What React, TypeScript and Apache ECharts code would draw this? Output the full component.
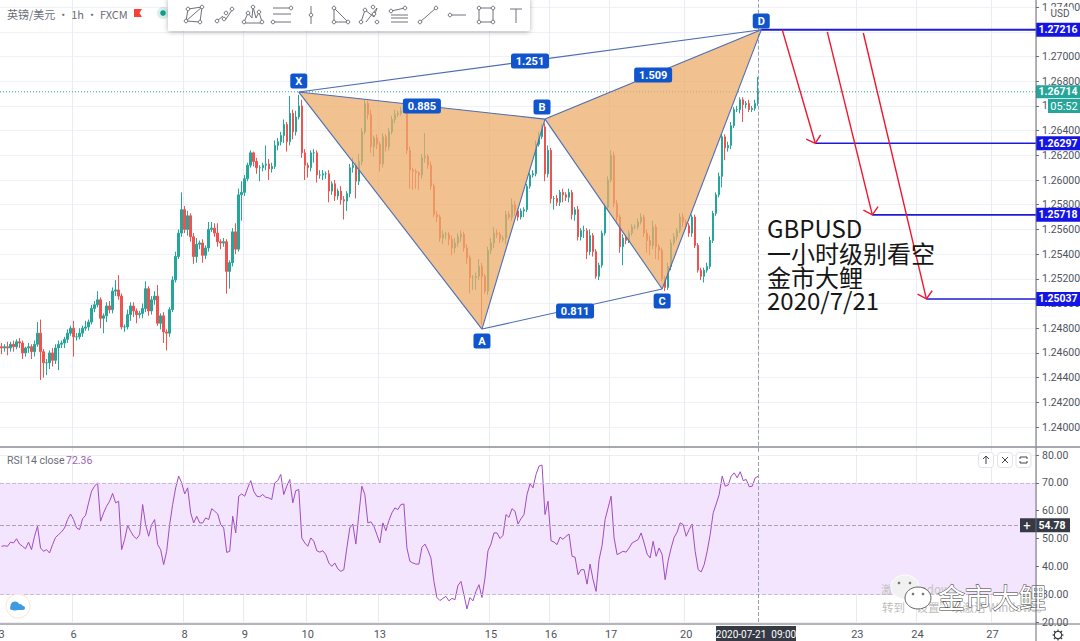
import React, { useEffect, useRef } from "react";
import * as echarts from "echarts";

const BAR_COUNT = 345;
const categories = Array.from({ length: BAR_COUNT }, (_, i) => String(i));
const dayTicks: [number, string][] = [
  [0, "3"], [24, "6"], [61, "8"], [81, "9"], [102, "10"], [126, "13"], [163, "15"], [183, "16"], [203, "17"],
  [228, "20"], [285, "23"], [305, "24"], [330, "27"],
];
const dayMap = new Map(dayTicks);

const FIRST_OPEN = 1.2465;
const closes = [
  1.2464,1.2465,1.2464,1.2467,1.2465,1.2469,1.2468,1.2460,1.2464,1.2465,
  1.2461,1.2467,1.2476,1.2461,1.2452,1.2452,1.2460,1.2454,1.2464,1.2467,
  1.2468,1.2471,1.2476,1.2480,1.2473,1.2473,1.2476,1.2480,1.2481,1.2485,
  1.2496,1.2499,1.2503,1.2488,1.2490,1.2498,1.2495,1.2510,1.2511,1.2506,
  1.2481,1.2481,1.2491,1.2498,1.2494,1.2491,1.2492,1.2496,1.2512,1.2494,
  1.2503,1.2506,1.2484,1.2490,1.2477,1.2476,1.2495,1.2519,1.2538,1.2557,
  1.2576,1.2560,1.2571,1.2554,1.2538,1.2548,1.2549,1.2539,1.2545,1.2560,
  1.2561,1.2557,1.2550,1.2549,1.2550,1.2526,1.2533,1.2558,1.2544,1.2588,
  1.2590,1.2601,1.2612,1.2622,1.2615,1.2610,1.2610,1.2612,1.2613,1.2609,
  1.2611,1.2628,1.2631,1.2636,1.2645,1.2631,1.2654,1.2639,1.2651,1.2660,
  1.2622,1.2612,1.2610,1.2622,1.2622,1.2604,1.2604,1.2605,1.2605,1.2591,
  1.2597,1.2587,1.2591,1.2584,1.2583,1.2589,1.2610,1.2612,1.2599,1.2615,
  1.2639,1.2662,1.2653,1.2627,1.2634,1.2629,1.2613,1.2635,1.2627,1.2639,
  1.2649,1.2653,1.2654,1.2656,1.2662,1.2624,1.2608,1.2607,1.2606,1.2604,
  1.2618,1.2619,1.2612,1.2595,1.2572,1.2570,1.2553,1.2556,1.2556,1.2552,
  1.2545,1.2549,1.2554,1.2556,1.2545,1.2537,1.2521,1.2521,1.2522,1.2530,
  1.2522,1.2510,1.2543,1.2549,1.2557,1.2556,1.2552,1.2553,1.2572,1.2570,
  1.2580,1.2575,1.2570,1.2575,1.2576,1.2595,1.2604,1.2605,1.2629,1.2635,
  1.2643,1.2605,1.2624,1.2585,1.2585,1.2582,1.2590,1.2588,1.2586,1.2590,
  1.2572,1.2576,1.2554,1.2559,1.2559,1.2542,1.2555,1.2542,1.2522,1.2531,
  1.2557,1.2578,1.2600,1.2620,1.2581,1.2570,1.2546,1.2553,1.2551,1.2557,
  1.2562,1.2562,1.2566,1.2570,1.2557,1.2551,1.2547,1.2562,1.2546,1.2543,
  1.2520,1.2513,1.2530,1.2549,1.2554,1.2559,1.2570,1.2566,1.2563,1.2557,
  1.2570,1.2547,1.2527,1.2522,1.2527,1.2530,1.2551,1.2573,1.2588,1.2603,
  1.2635,1.2626,1.2628,1.2644,1.2657,1.2657,1.2665,1.2661,1.2662,1.2657,
  1.2658,1.2662,1.26714,
];
// Wick lengths in pips above / below each candle body
const upperWicks = [
  3,2,4,2,3,2,3,2,1,3, 2,3,9,11,2,3,2,4,3,3, 2,2,3,2,6,3,4,2,5,2, 3,3,7,2,2,3,4,3,8,12,
  2,2,4,3,3,2,2,4,6,2, 3,4,9,2,3,2,2,3,4,3, 14,3,4,2,3,5,2,3,2,6, 5,4,8,2,3,2,2,3,7,5,
  9,3,2,2,1,3,2,2,15,4, 3,4,3,3,4,2,14,3,5,9, 5,3,2,2,3,2,4,3,2,3, 2,3,2,4,3,2,3,6,2,6,
  3,3,2,4,2,3,2,3,2,3, 3,4,2,3,3,2,3,2,2,1, 3,19,2,3,2,3,2,3,2,2, 3,4,3,3,2,3,2,2,3,6,
  3,2,3,4,5,3,2,2,3,3, 5,3,2,2,2,2,2,3,3,4, 2,3,4,2,2,3,2,3,2,3, 2,2,3,2,4,2,5,2,2,2,
  2,3,3,4,3,3,2,3,2,2, 2,2,3,3,2,3,4,5,2,2, 2,2,3,3,3,2,3,3,2,2, 2,2,2,2,2,3,3,2,2,3,
  3,2,3,3,2,3,2,2,2,3, 2,3,12,
];
const lowerWicks = [
  5,3,6,3,4,2,4,5,3,4, 6,4,2,23,12,10,5,5,3,18, 3,4,3,2,16,3,2,3,2,3, 2,3,2,8,12,5,3,3,4,3,
  2,4,2,5,5,7,3,4,3,4, 3,4,2,5,9,14,3,2,2,2, 3,3,5,4,6,5,4,6,3,3, 2,3,4,5,3,18,14,3,4,2,
  21,3,2,2,4,5,11,3,4,9, 3,2,4,3,6,8,3,6,3,2, 4,12,8,3,8,6,3,4,4,9, 3,4,3,4,15,8,3,4,14,3,
  3,2,4,5,8,4,6,3,4,3, 2,3,2,2,2,3,15,15,13,12, 3,4,3,3,2,4,3,5,4,5, 6,4,3,4,3,5,13,10,10,3,
  39,2,3,3,4,3,3,2,5,2, 3,4,3,2,5,2,2,2,2,2, 2,6,3,4,9,3,3,6,3,4, 4,5,3,3,6,6,3,4,2,3,
  2,2,2,2,3,5,5,15,3,2, 2,2,2,2,3,10,8,3,10,8, 2,3,2,3,2,3,2,4,3,3, 3,2,2,3,5,2,2,2,2,2,
  9,10,3,3,2,2,3,14,3,2, 2,2,2,
];
const rsiValues = [
  47.2,47.4,47.2,48.7,48.4,49.9,48.0,47.2,46.3,48.7,
  46.0,50.8,54.4,46.6,45.4,46.0,44.8,47.8,50.4,51.4,
  52.4,53.8,56.8,58.8,56.8,53.8,53.2,57.1,58.3,62.8,
  67.0,68.8,70.0,56.2,59.2,61.6,63.4,66.2,62.8,63.4,
  46.0,49.6,54.7,52.6,50.8,49.9,51.4,62.2,55.0,50.8,
  55.0,56.8,47.8,46.0,40.6,45.4,55.0,62.2,68.2,72.4,
  70.0,66.0,68.2,59.2,55.6,58.0,55.6,55.6,57.4,56.8,
  60.7,59.8,58.8,55.0,53.8,45.0,45.4,58.0,52.0,65.2,
  66.0,65.2,68.2,70.8,67.0,65.2,65.0,65.8,64.8,64.6,
  64.0,70.0,70.8,73.0,65.8,68.8,71.2,62.8,67.2,67.6,
  50.2,48.4,47.2,50.2,49.0,45.6,45.1,45.6,44.2,41.2,
  40.0,41.2,39.1,38.2,38.8,46.6,53.8,55.2,48.0,58.6,
  68.8,65.8,55.6,56.0,54.4,51.4,48.4,55.6,52.8,56.4,
  59.2,61.0,60.4,62.2,62.4,46.6,41.8,41.2,40.8,40.8,
  46.8,48.0,45.8,43.0,34.6,28.8,27.7,28.5,29.2,27.6,
  28.5,28.0,33.1,34.6,29.8,24.7,28.8,27.6,31.0,33.4,
  28.8,35.8,45.6,48.0,52.0,52.0,50.0,51.1,58.6,57.6,
  60.7,59.8,55.2,57.1,58.6,65.8,69.6,68.2,73.0,76.0,
  76.4,58.6,63.4,49.2,48.7,47.8,50.5,49.7,50.8,51.6,
  43.6,43.3,37.0,38.8,38.8,33.6,40.8,35.2,31.0,42.4,
  47.5,56.8,61.0,65.2,50.2,44.2,44.8,45.4,45.1,46.6,
  48.4,49.0,49.6,52.0,48.4,44.4,43.0,49.0,43.6,46.6,
  44.2,35.2,42.0,46.6,50.4,52.3,55.6,55.0,50.8,53.2,
  55.2,45.4,38.8,38.0,40.6,45.4,51.4,59.2,62.4,65.8,
  72.4,68.8,69.2,72.4,73.6,71.8,74.0,70.8,71.2,68.6,
  68.8,71.8,72.36,
];

const LAST_PRICE = 1.26714;
const RSI_MA = 54.78;
const CURSOR_BAR = "252";

// Harmonic pattern vertices [bar, price]
const X: [number, number] = [99, 1.26712];
const A: [number, number] = [160, 1.24793];
const B: [number, number] = [181, 1.26493];
const C: [number, number] = [220, 1.25117];
const D: [number, number] = [253, 1.27216];
const triangles = [[X, A, B], [B, C, D]];
const patternLines = [[X, A], [A, B], [B, C], [C, D], [X, B], [B, D], [X, D], [A, C]];
const patternLabels: [number, number, string, number][] = [
  [140, 1.26599, "0.885", 38], [176, 1.26963, "1.251", 38], [217, 1.2685, "1.509", 38], [191, 1.24939, "0.811", 38],
  [99, 1.26801, "X", 17], [160, 1.24696, "A", 17], [180, 1.26591, "B", 17], [220, 1.2502, "C", 17], [253, 1.27287, "D", 17],
];
// Target levels [first bar, price]
const levels: [number, number][] = [[253, 1.27216], [271, 1.26297], [290, 1.25718], [308, 1.25037]];
// Red arrows [from bar, from price, to bar, to price]
const arrows: [number, number, number, number][] = [
  [260, 1.27216, 271, 1.26297],
  [275, 1.272, 290, 1.25718],
  [287, 1.2719, 308, 1.25037],
];

const AXIS_X = 1036;
const CHART_W = 1080;
const BLUE_TAG = "#1155cc";
const FONT = "Roboto, 'Noto Sans', sans-serif";
const CJK = "'Noto Sans CJK SC', sans-serif";

const txt = (text: string, x: number, y: number, fill: string, font: string, align = "center", extra: any = {}) => ({
  type: "text",
  style: { text, x, y, fill, font, align, verticalAlign: "middle", textAlign: align, textVerticalAlign: "middle", ...extra },
});

function chrome(): any[] {
  const out: any[] = [];
  const add = (el: any, z = 100) => out.push({ ...el, z, silent: true });
  const ln = (x1: number, y1: number, x2: number, y2: number, stroke: string, lineWidth = 1, z = 100) =>
    add({ type: "line", shape: { x1, y1, x2, y2 }, style: { stroke, lineWidth } }, z);

  ln(AXIS_X, 0, AXIS_X, 641, "#6a6d78", 1);
  ln(0, 447, CHART_W, 447, "#8a8d96", 1.5);
  ln(0, 624, CHART_W, 624, "#6a6d78", 1);

  // Title
  add({ ...txt("英镑/美元 · 1h · FXCM", 7, 14, "#6a6d78", `11px ${CJK}`, "left") });
  add({ type: "polygon", shape: { points: [[134, 9], [142, 9], [139.5, 13], [142, 17], [134, 17]] }, style: { fill: "#f44336" } });
  add({ type: "circle", shape: { cx: 163, cy: 13, r: 6 }, style: { fill: "rgba(38,166,154,0.18)" } });
  add({ type: "circle", shape: { cx: 163, cy: 13, r: 2.8 }, style: { fill: "#0f9d8a" } });

  // Toolbar
  add({ type: "rect", shape: { x: 168, y: -3, width: 362, height: 34, r: 2 },
    style: { fill: "#fff", shadowBlur: 5, shadowColor: "rgba(0,0,0,0.3)", shadowOffsetY: 1 } }, 110);
  const cx = [194, 225, 253, 282, 311, 340, 369, 399, 428, 457, 486, 516];
  const icons: { l: number[][][]; d: number[][] }[] = [
    { l: [[[-8, 6], [-6, -6], [8, -8], [6, 7], [-8, 6], [8, -8]]], d: [[-8, 6], [-6, -6], [8, -8], [6, 7]] },
    { l: [[[-8, 6], [-2, 1]], [[1, 4], [7, -5]]], d: [[-8, 6], [-1, 4], [1, -2], [7, -6]] },
    { l: [[[-9, 7], [-5, -2], [-1, 3], [0, -8], [3, 3], [6, -3], [9, 7]], [[-10, 8], [10, 8]]], d: [[-9, 7], [-5, -2], [0, -8], [6, -3], [9, 7]] },
    { l: [[[-9, -7], [7, -7]], [[-9, -1], [9, -1]], [[-9, 7], [9, 7]]], d: [[9, -7], [-9, 7]] },
    { l: [[[0, -9], [0, 9]]], d: [[0, 0]] },
    { l: [[[-6, -7], [8, 7], [-6, 7], [-6, -7]]], d: [[-6, -7], [8, 7], [-6, 7]] },
    { l: [[[-8, 7], [-4, -5], [5, 2], [8, -7], [-3, 7]]], d: [[-8, 7], [-4, -5], [5, -1], [8, 7], [4, -8]] },
    { l: [[[-8, -4], [6, -7]], [[-8, 0], [9, 0]], [[-8, 3], [9, 3]], [[-8, 7], [9, 7]]], d: [[-8, -4], [6, -7]] },
    { l: [[[-8, 7], [8, -7]]], d: [[-8, 7], [8, -7]] },
    { l: [[[-6, 0], [9, 0]]], d: [[-7, 0]] },
    { l: [[[-7, -7], [7, -7], [7, 7], [-7, 7], [-7, -7]]], d: [[-7, -7], [7, -7], [7, 7], [-7, 7]] },
    { l: [[[-6, -6], [6, -6]], [[0, -6], [0, 8]]], d: [] },
  ];
  icons.forEach((ic, i) => {
    ic.l.forEach((p) =>
      add({ type: "polyline", shape: { points: p.map(([a, b]) => [cx[i] + a, 15 + b]) },
        style: { stroke: "#6f727c", lineWidth: 1, fill: "none" } }, 111));
    ic.d.forEach(([a, b]) =>
      add({ type: "circle", shape: { cx: cx[i] + a, cy: 15 + b, r: 1.8 }, style: { fill: "#fff", stroke: "#6f727c", lineWidth: 1 } }, 112));
  });

  // USD box and countdown
  add({ type: "rect", shape: { x: 1047, y: 7, width: 26, height: 13, r: 2 }, style: { fill: "rgba(255,255,255,0.95)" } }, 110);
  add(txt("USD", 1060, 13.5, "#50535e", `10px ${FONT}`), 111);
  add({ type: "rect", shape: { x: 1048, y: 99, width: 32, height: 14 }, style: { fill: "#26a69a" } }, 110);
  add(txt("05:52", 1064, 106.5, "#fff", `11px ${FONT}`), 111);

  // Annotation
  [["GBPUSD", 227], ["一小时级别看空", 252], ["金市大鲤", 276], ["2020/7/21", 299]].forEach(([t, y]) =>
    add(txt(t as string, 767, y as number, "#161616", `24px ${CJK}`, "left")));

  // RSI chrome
  add(txt("RSI 14 close", 7, 460, "#6a6d78", `10.5px ${FONT}`, "left"));
  add(txt("72.36", 66, 460, "#9c5fb5", `10.5px ${FONT}`, "left"));
  [986, 1005, 1023.5].forEach((x) =>
    add({ type: "rect", shape: { x: x - 7.5, y: 452.5, width: 15, height: 15, r: 3 }, style: { fill: "#fff", stroke: "#e0e3eb", lineWidth: 1 } }));
  add({ type: "polyline", shape: { points: [[983, 459], [986, 456], [989, 459]] }, style: { stroke: "#444", fill: "none" } }, 101);
  add({ type: "line", shape: { x1: 986, y1: 456, x2: 986, y2: 464 }, style: { stroke: "#444" } }, 101);
  add({ type: "line", shape: { x1: 1002, y1: 457, x2: 1008, y2: 463 }, style: { stroke: "#444" } }, 101);
  add({ type: "line", shape: { x1: 1008, y1: 457, x2: 1002, y2: 463 }, style: { stroke: "#444" } }, 101);
  add({ type: "polyline", shape: { points: [[1020, 459], [1020, 457], [1027, 457], [1027, 459]] }, style: { stroke: "#444", fill: "none" } }, 101);
  add({ type: "polyline", shape: { points: [[1020, 461], [1020, 463], [1027, 463], [1027, 461]] }, style: { stroke: "#444", fill: "none" } }, 101);

  // Cloud logo
  add({ type: "circle", shape: { cx: 18, cy: 606, r: 12 }, style: { fill: "#fff", stroke: "#f5e6da", lineWidth: 1 } });
  add({ type: "circle", shape: { cx: 15, cy: 606, r: 4.5 }, style: { fill: "#3d9be0" } }, 101);
  add({ type: "circle", shape: { cx: 20, cy: 607, r: 3 }, style: { fill: "#3d9be0" } }, 101);
  add({ type: "rect", shape: { x: 10, y: 606, width: 15, height: 4, r: 2 }, style: { fill: "#3d9be0" } }, 101);

  // Time label
  add({ type: "rect", shape: { x: 716, y: 626, width: 80, height: 15 }, style: { fill: "#363a45" } }, 101);
  add(txt("2020-07-21  09:00", 756, 634, "#fff", `10px ${FONT}`), 102);

  // Gear
  add({ type: "circle", shape: { cx: 1058, cy: 635, r: 3.6 }, style: { fill: "#fff", stroke: "#3a3d46", lineWidth: 1.4 } }, 101);
  [[0, -5.5, 0, 5.5], [-5.5, 0, 5.5, 0], [-4, -4, 4, 4], [-4, 4, 4, -4]].forEach(([a, b, c, d]) =>
    add({ type: "line", shape: { x1: 1058 + a, y1: 635 + b, x2: 1058 + c, y2: 635 + d }, style: { stroke: "#3a3d46", lineWidth: 1.2 } }, 100));
  add({ type: "circle", shape: { cx: 1058, cy: 635, r: 3 }, style: { fill: "#fff" } }, 101);

  // Watermark
  add(txt("激活 Windows", 881, 589, "#c4c4c4", `11.5px ${CJK}`, "left"), 90);
  add(txt("转到“设置”以激活 Windows。", 882, 607, "#bdbdbd", `11.5px ${CJK}`, "left"), 90);
  add({ type: "ellipse", shape: { cx: 905, cy: 587, rx: 14, ry: 12 }, style: { fill: "#f1f1f1", stroke: "#fff", lineWidth: 1 } }, 95);
  add({ type: "ellipse", shape: { cx: 918, cy: 598, rx: 13, ry: 11 }, style: { fill: "#fff", stroke: "#666", lineWidth: 1 } }, 96);
  [[899, 583], [910, 583], [913, 594], [923, 594]].forEach(([a, b]) =>
    add({ type: "circle", shape: { cx: a, cy: b, r: 1.3 }, style: { fill: "#777" } }, 97));
  add(txt("金市大鲤", 938, 596, "#fff", `27px ${CJK}`, "left", { stroke: "#3c3c3c", lineWidth: 1 }), 97);
  return out;
}

export default function App() {
  const ref = useRef<HTMLDivElement>(null);
  useEffect(() => {
    document.body.style.margin = "0";
    const chart = echarts.init(ref.current!, null, { renderer: "svg", width: CHART_W, height: 641 });
    const opens = closes.map((_, i) => (i === 0 ? FIRST_OPEN : closes[i - 1]));
    const candles = closes.map((c, i) => {
      const o = opens[i];
      const low = Math.min(o, c) - (lowerWicks[i] ?? 0) * 0.0001;
      const high = Math.max(o, c) + (upperWicks[i] ?? 0) * 0.0001;
      return [o, c, low, high];
    });
    const priceX = {
      type: "category", data: categories, gridIndex: 0, boundaryGap: true,
      axisLine: { show: false }, axisTick: { show: false, alignWithLabel: true }, axisLabel: { show: false },
      splitLine: { show: true, interval: (i: number) => dayMap.has(i) && i !== 0, lineStyle: { color: "#e9edf3", width: 1 } },
    };
    const rsiX = {
      type: "category", data: categories, gridIndex: 1, boundaryGap: true,
      axisLine: { show: false }, axisTick: { show: false, alignWithLabel: true },
      axisLabel: {
        show: true, interval: (i: number) => dayMap.has(i), formatter: (_: string, i: number) => dayMap.get(i) ?? "",
        color: "#50535e", fontSize: 11, fontFamily: FONT, margin: 7, showMinLabel: true,
      },
      splitLine: { show: true, interval: (i: number) => dayMap.has(i) && i !== 0, lineStyle: { color: "rgba(90,90,120,0.12)", width: 1 } },
    };
    const base = { xAxisIndex: 0, yAxisIndex: 0, silent: true };
    chart.setOption({
      animation: false,
      backgroundColor: "#fff",
      grid: [
        { left: 0, width: AXIS_X, top: -17.6, height: 469.3, outerBoundsMode: "none", containLabel: false },
        { left: 0, width: AXIS_X, top: 455, height: 167, outerBoundsMode: "none", containLabel: false },
      ],
      xAxis: [priceX, rsiX],
      yAxis: [
        {
          type: "value", gridIndex: 0, position: "right", min: 1.238, max: 1.276, interval: 0.002, scale: true,
          axisLine: { show: false }, axisTick: { show: true, length: 3, lineStyle: { color: "#6a6d78" } },
          axisLabel: { showMinLabel: false, showMaxLabel: false, formatter: (v: number) => v.toFixed(5), color: "#50535e", fontSize: 10.5, fontFamily: FONT, margin: 6 },
          splitLine: { show: true, showMinLine: false, showMaxLine: false, lineStyle: { color: "#eef1f5", width: 1 } },
        },
        {
          type: "value", gridIndex: 1, position: "right", min: 20, max: 80, interval: 10,
          axisLine: { show: false }, axisTick: { show: true, length: 3, lineStyle: { color: "#6a6d78" } },
          axisLabel: { formatter: (v: number) => v.toFixed(2), color: "#50535e", fontSize: 10.5, fontFamily: FONT, margin: 6 },
          splitLine: { show: true, lineStyle: { color: "rgba(90,70,120,0.09)", width: 1 } },
        },
      ],
      series: [
        {
          ...base, type: "candlestick", z: 2, barWidth: 2, clip: true, data: candles,
          itemStyle: { color: "#26a69a", color0: "#ef5350", borderColor: "#26a69a", borderColor0: "#ef5350", borderWidth: 1 },
          markLine: {
            silent: true, symbol: "none", label: { show: false },
            lineStyle: { color: "#9a9ea8", type: "dashed", width: 1 }, data: [{ xAxis: CURSOR_BAR }],
          },
        },
        {
          // Last-price dotted line with its scale tag
          ...base, type: "custom", z: 3, data: [[0, LAST_PRICE]],
          renderItem: (_: any, api: any) => {
            const [, y] = api.coord([0, LAST_PRICE]);
            return { type: "group", children: [
              { type: "line", shape: { x1: 0, y1: y, x2: AXIS_X, y2: y }, style: { stroke: "#26a69a", lineWidth: 1, lineDash: [1, 2] } },
              { type: "rect", shape: { x: AXIS_X, y: y - 6.5, width: 44, height: 13 }, style: { fill: "#26a69a" } },
              txt(LAST_PRICE.toFixed(5), 1058, y, "#fff", `bold 10.5px ${FONT}`),
            ] };
          },
        },
        {
          ...base, type: "custom", z: 4, data: triangles.map((t) => t[0]),
          renderItem: (p: any, api: any) => ({
            type: "polygon",
            shape: { points: triangles[p.dataIndex].map((v) => api.coord(v)) },
            style: { fill: "rgba(236,172,105,0.75)" },
          }),
        },
        {
          ...base, type: "custom", z: 5, data: patternLines.map((l) => l[0]),
          renderItem: (p: any, api: any) => {
            const [a, b] = patternLines[p.dataIndex].map((v) => api.coord(v));
            return { type: "line", shape: { x1: a[0], y1: a[1], x2: b[0], y2: b[1] }, style: { stroke: "#4d6db3", lineWidth: 1.1 } };
          },
        },
        {
          // Blue target levels running to the price scale
          ...base, type: "custom", z: 6, data: levels,
          renderItem: (p: any, api: any) => {
            const [bar, price] = levels[p.dataIndex];
            const [x, y] = api.coord([bar, price]);
            return { type: "group", children: [
              { type: "line", shape: { x1: x, y1: y, x2: AXIS_X, y2: y }, style: { stroke: "#1c1cd8", lineWidth: p.dataIndex === 0 ? 2 : 1.6 } },
              { type: "rect", shape: { x: AXIS_X, y: y - 7, width: 44, height: 14 }, style: { fill: "#1414e6" } },
              txt(price.toFixed(5), 1058, y, "#fff", `bold 10.5px ${FONT}`),
            ] };
          },
        },
        {
          ...base, type: "custom", z: 7, data: arrows.map((a) => [a[0], a[1]]),
          renderItem: (p: any, api: any) => {
            const [b0, p0, b1, p1] = arrows[p.dataIndex];
            const s = api.coord([b0, p0]);
            const e = api.coord([b1, p1]);
            const ang = Math.atan2(e[1] - s[1], e[0] - s[0]);
            const wing = (d: number) => [e[0] - 10 * Math.cos(ang + d), e[1] - 10 * Math.sin(ang + d)];
            return { type: "group", children: [
              { type: "line", shape: { x1: s[0], y1: s[1], x2: e[0], y2: e[1] }, style: { stroke: "#f0162f", lineWidth: 1.4 } },
              { type: "polyline", shape: { points: [wing(0.85), e, wing(-0.85)] }, style: { stroke: "#f0162f", lineWidth: 1.4, fill: "none" } },
            ] };
          },
        },
        {
          ...base, type: "custom", z: 8, data: patternLabels.map((l) => [l[0], l[1]]),
          renderItem: (p: any, api: any) => {
            const [bar, price, text, w] = patternLabels[p.dataIndex];
            const [x, y] = api.coord([bar, price]);
            return { type: "group", children: [
              { type: "rect", shape: { x: x - w / 2, y: y - 7.5, width: w, height: 15, r: 2.5 }, style: { fill: BLUE_TAG } },
              txt(text, x, y, "#fff", `bold 11px ${FONT}`),
            ] };
          },
        },
        {
          type: "line", xAxisIndex: 1, yAxisIndex: 1, silent: true, z: 3, data: rsiValues,
          showSymbol: false, symbol: "none", smooth: false,
          lineStyle: { color: "#a04cc0", width: 1 },
          markArea: { silent: true, itemStyle: { color: "#f3e5fd", opacity: 1 }, data: [[{ yAxis: 70 }, { yAxis: 30 }]] },
          markLine: {
            silent: true, symbol: "none", label: { show: false },
            data: [
              { yAxis: 70, lineStyle: { color: "#c9bccd", type: "dashed", width: 1 } },
              { yAxis: 30, lineStyle: { color: "#c9bccd", type: "dashed", width: 1 } },
              { yAxis: RSI_MA, lineStyle: { color: "#b09cb8", type: "dashed", width: 1 } },
              { xAxis: CURSOR_BAR, lineStyle: { color: "#9a9ea8", type: "dashed", width: 1 } },
            ],
          },
        },
        {
          type: "custom", xAxisIndex: 1, yAxisIndex: 1, silent: true, z: 9, data: [[0, RSI_MA]],
          renderItem: (_: any, api: any) => {
            const [, y] = api.coord([0, RSI_MA]);
            return { type: "group", children: [
              { type: "rect", shape: { x: 1020, y: y - 7, width: 50, height: 14 }, style: { fill: "#363a45" } },
              txt("+", 1027, y, "#fff", `13px ${FONT}`),
              txt(RSI_MA.toFixed(2), 1052, y, "#fff", `bold 10.5px ${FONT}`),
            ] };
          },
        },
      ],
      graphic: { elements: chrome() },
    });
    return () => chart.dispose();
  }, []);
  return <div ref={ref} style={{ position: "absolute", left: 0, top: 0, width: CHART_W, height: 641 }} />;
}
